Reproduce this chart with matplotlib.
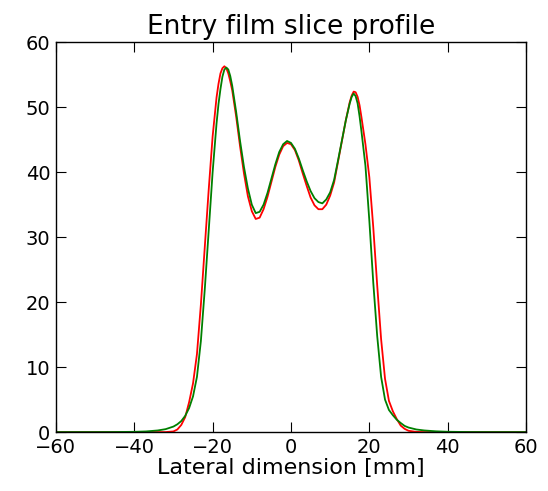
import matplotlib
matplotlib.use("Agg")
import matplotlib.pyplot as plt

# lateral position [mm] shared by both profiles
pos_mm = [-60, -50, -45, -40, -37, -34, -32, -30, -29, -28, -27, -26, -25, -24,
          -23, -22, -21, -20, -19, -18.5, -18, -17.5, -17, -16.5, -16, -15.5,
          -15, -14, -13, -12, -11, -10, -9, -8, -7, -6, -5, -4, -3, -2, -1, 0,
          1, 2, 3, 4, 5, 6, 7, 8, 9, 10, 11, 12, 13, 14, 15, 15.5, 16, 16.5,
          17, 17.5, 18, 19, 20, 21, 22, 23, 24, 25, 26, 27, 28, 29, 30, 32, 34,
          37, 40, 45, 50, 60]

# measured profile (green)
profile_green = [0.0, 0.0, 0.01, 0.04, 0.1, 0.25, 0.45, 0.85, 1.2, 1.7, 2.5,
                 3.7, 5.5, 8.5, 14.0, 22.0, 31.0, 40.0, 47.5, 50.5, 52.8, 54.7,
                 55.8, 56.1, 55.8, 54.8, 53.3, 49.3, 44.8, 40.8, 37.5, 35.0,
                 33.7, 33.9, 35.0, 36.8, 39.0, 41.2, 43.1, 44.3, 44.8, 44.5,
                 43.6, 42.1, 40.3, 38.6, 37.1, 36.0, 35.4, 35.2, 35.8, 36.9,
                 38.8, 41.8, 44.9, 48.0, 50.6, 51.6, 52.1, 51.7, 50.6, 48.6,
                 46.2, 41.0, 32.5, 23.0, 14.8, 8.5, 5.0, 3.4, 2.6, 1.9, 1.4,
                 0.95, 0.7, 0.4, 0.25, 0.12, 0.05, 0.01, 0.0, 0.0]

# computed profile (red)
profile_red = [0.0, 0.0, 0.0, 0.0, 0.0, 0.0, 0.0, 0.1, 0.4, 1.1, 2.3, 4.6,
               7.5, 12.0, 19.6, 28.5, 37.3, 45.5, 51.5, 53.6, 55.2, 56.0,
               56.3, 56.0, 55.2, 54.0, 52.6, 48.6, 44.0, 39.8, 36.3, 34.0,
               32.8, 33.0, 34.3, 36.2, 38.5, 40.8, 42.7, 44.0, 44.5, 44.3,
               43.4, 41.8, 39.8, 37.9, 36.1, 34.9, 34.3, 34.3, 35.0, 36.4,
               38.4, 41.6, 44.8, 48.0, 50.8, 51.8, 52.4, 52.3, 51.6, 50.3,
               48.4, 44.3, 39.2, 31.5, 22.6, 14.3, 8.2, 4.8, 3.2, 2.0, 1.0,
               0.5, 0.2, 0.03, 0.0, 0.0, 0.0, 0.0, 0.0, 0.0]

fig = plt.figure(figsize=(5.48, 4.91), dpi=100)
ax = fig.add_axes([0.102, 0.12, 0.858, 0.794])

ax.plot(pos_mm, profile_red, color='red', linewidth=1.3)
ax.plot(pos_mm, profile_green, color='green', linewidth=1.3)

ax.set_xlim(-60, 60)
ax.set_ylim(0, 60)
ax.set_xticks(range(-60, 61, 20))
ax.set_yticks(range(0, 61, 10))
ax.tick_params(direction='in', top=True, right=True, length=7, labelsize=14,
               pad=4)
for spine in ax.spines.values():
    spine.set_linewidth(1.0)

ax.set_title('Entry film slice profile', fontsize=19)
ax.set_xlabel('Lateral dimension [mm]', fontsize=16, labelpad=1)

fig.savefig('out.png', dpi=100)
